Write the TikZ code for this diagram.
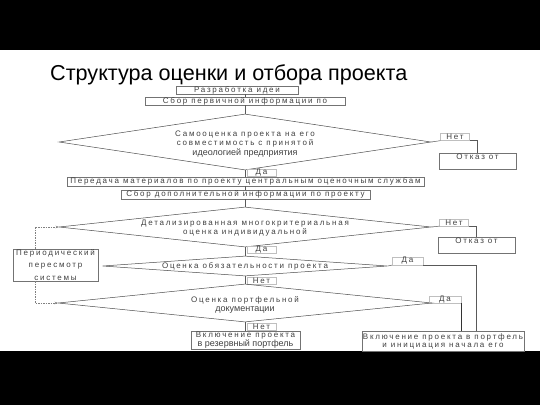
\documentclass[tikz,border=0pt]{standalone}
\usepackage{fontspec}
\setmainfont{Liberation Sans}
\newfontfamily\spfont[LetterSpace=22]{Liberation Sans}
\usetikzlibrary{shapes.geometric,arrows.meta}
\newcommand\smalltxt{\spfont\fontsize{8}{9}\selectfont}
\newcommand\plaintxt{\normalfont\fontsize{9}{9}\selectfont}
\begin{document}
\begin{tikzpicture}[x=1pt,y=-1pt,
    stage/.style={draw=black!55, line width=0.4pt, inner sep=0pt, text=black!75, font=\smalltxt, align=center},
    decision/.style={shape=diamond, draw=black!70, line width=0.5pt, inner sep=0pt},
    answer/.style={draw=black!25, line width=0.3pt, inner sep=0pt, minimum width=29pt, minimum height=7pt, text=black!75, font=\smalltxt},
    dtext/.style={text=black!75, font=\smalltxt, align=center, inner sep=0pt},
    link/.style={draw=black!65, line width=0.5pt},
    review/.style={draw=black!50, dash pattern=on 1.5pt off 1pt, line width=0.5pt, -{Stealth[length=3pt,width=2.5pt]}}]
    \useasboundingbox (0,0) rectangle (540,405);
    \fill[black] (0,0) rectangle (540,50);
    \fill[black] (0,351) rectangle (540,405);

    \node[anchor=base west, inner sep=0pt, font=\fontsize{21.6}{24}\selectfont] (title) at (50,80) {Структура оценки и отбора проекта};

    \node[stage, minimum width=122pt, minimum height=8pt] (idea) at (237,90) {Разработка идеи};
    \node[stage, minimum width=200pt, minimum height=8pt] (info1) at (245,101) {Сбор первичной информации по};
    \node[decision, minimum width=372pt, minimum height=56pt] (d1) at (245,142) {};
    \node[dtext, font=\spfont\fontsize{8}{9.5}\selectfont] (d1t) at (245,144) {Самооценка проекта на его\\совместимость с принятой\\{\plaintxt идеологией предприятия}};
    \node[answer] (no1) at (455,137) {Нет};
    \node[stage, minimum width=77pt, minimum height=16pt, text depth=9pt] (refuse1) at (477.5,161) {Отказ от};
    \node[answer] (yes1) at (261.5,173) {Да};
    \node[stage, minimum width=357pt, minimum height=9pt] (pass) at (245.5,181.5) {Передача материалов по проекту центральным оценочным службам};
    \node[stage, minimum width=249pt, minimum height=9pt] (info2) at (245.5,194.5) {Сбор дополнительной информации по проекту};

    \node[decision, minimum width=372pt, minimum height=40pt] (d2) at (245,227) {};
    \node[dtext, font=\spfont\fontsize{8}{8.5}\selectfont] (d2t) at (245,228) {Детализированная многокритериальная\\оценка индивидуальной};
    \node[answer] (no2) at (454,222.5) {Нет};
    \node[stage, minimum width=77pt, minimum height=16pt, text depth=9pt] (refuse2) at (476.5,245) {Отказ от};
    \node[answer] (yes2) at (261.5,250) {Да};

    \node[decision, minimum width=285pt, minimum height=20pt] (d3) at (245,266) {};
    \node[dtext] (d3t) at (245,266) {Оценка обязательности проекта};
    \node[answer, minimum width=31pt, minimum height=8pt] (yes3) at (407.5,261) {Да};
    \node[answer] (no3) at (261.5,281) {Нет};

    \node[decision, minimum width=374pt, minimum height=38pt] (d4) at (245,303) {};
    \node[dtext, font=\spfont\fontsize{8}{9.5}\selectfont] (d4t) at (245,305) {Оценка портфельной\\{\plaintxt документации}};
    \node[answer, minimum width=32pt] (yes4) at (445,299.5) {Да};
    \node[answer] (no4) at (261.5,327) {Нет};

    \node[stage, minimum width=109pt, minimum height=18pt, font=\spfont\fontsize{8}{8}\selectfont] (reserve) at (245.5,340) {Включение проекта\\{\plaintxt в резервный портфель}};
    \node[stage, minimum width=162pt, minimum height=20pt, font=\spfont\fontsize{8}{8}\selectfont] (incl) at (443,341) {Включение проекта в портфель\\и инициация начала его};
    \node[stage, minimum width=85pt, minimum height=32pt, font=\spfont\fontsize{8}{12.5}\selectfont] (review) at (55.5,265) {Периодический\\пересмотр\\системы};

    % main line
    \draw[link] (idea.south -| d1.north) -- (info1.north -| d1.north);
    \draw[link] (info1.south -| d1.north) -- (d1.north);
    \draw[link] (d1.south) -- (pass.north -| d1.south);
    \draw[link] (pass.south -| d1.south) -- (info2.north -| d1.south);
    \draw[link] (info2.south -| d2.north) -- (d2.north);
    \draw[link] (d2.south) -- (d3.north);
    \draw[link] (d3.south) -- (d4.north);
    \draw[link] (d4.south) -- (reserve.north -| d4.south);

    % side branches
    \draw[link] (d1.east) -- (no1.south west);
    \draw[link] (no1.south east) -| (refuse1.north);
    \draw[link] (d2.east) -- (no2.south west);
    \draw[link] (no2.south east) -| (refuse2.north);
    \draw[link] (d3.east) -- (yes3.south west);
    \draw[link] (yes3.south east) -| (incl.north -| refuse2.north);
    \draw[link] (d4.east) -- (yes4.south west);
    \draw[link, line width=0.8pt, draw=black!80] (yes4.south east) -- (incl.north -| yes4.south east);

    % review loop
    \draw[review] ([xshift=-20.5pt]review.north) |- (d2.west);
    \draw[review] ([xshift=-20.5pt]review.south) |- (d4.west);
\end{tikzpicture}
\end{document}
